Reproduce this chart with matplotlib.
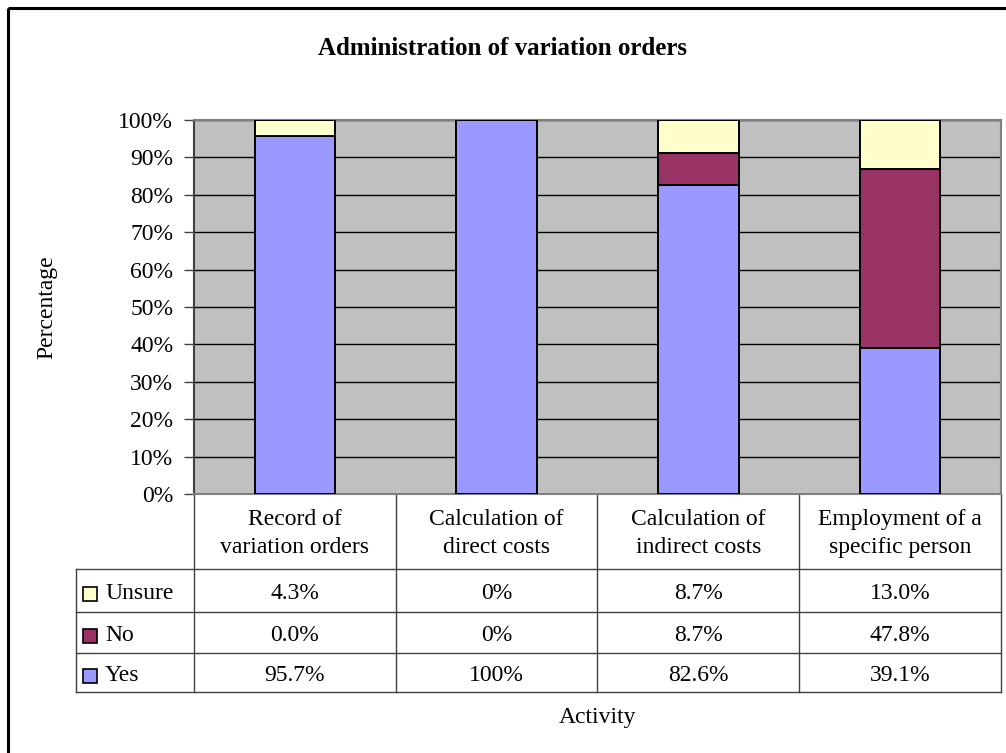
import numpy as np
import matplotlib
matplotlib.use("Agg")
import matplotlib.pyplot as plt
from matplotlib.patches import Rectangle

plt.rcParams.update({"font.family": ["Liberation Serif", "DejaVu Serif"], "font.size": 17})

# ---- data ----
activities = ["Record of\nvariation orders", "Calculation of\ndirect costs",
              "Calculation of\nindirect costs", "Employment of a\nspecific person"]
yes = [95.7, 100, 82.6, 39.1]
no = [0.0, 0, 8.7, 47.8]
unsure = [4.3, 0, 8.7, 13.0]
yes_txt = ["95.7%", "100%", "82.6%", "39.1%"]
no_txt = ["0.0%", "0%", "8.7%", "47.8%"]
unsure_txt = ["4.3%", "0%", "8.7%", "13.0%"]

YES_C = "#9999FF"; NO_C = "#993366"; UNS_C = "#FFFFCC"; BG = "#C0C0C0"
FS = 17

W, H = 1006, 753
fig = plt.figure(figsize=(W / 100, H / 100), dpi=100)

# overlay axes in pixel coordinates (y downwards) for frame + data table
ov = fig.add_axes([0, 0, 1, 1])
ov.set_xlim(0, W); ov.set_ylim(H, 0); ov.axis("off")
ov.add_patch(Rectangle((8, 8), W + 20, H + 20, fill=False, ec="black", lw=2.2))

# plot area in pixels
L, R, T, B = 194, 1001, 120, 494
ax = fig.add_axes([L / W, 1 - B / H, (R - L) / W, (B - T) / H])
ax.set_facecolor(BG)
x = np.arange(len(activities))
bw = 0.4
ax.bar(x, yes, bw, color=YES_C, edgecolor="black", lw=1.4, zorder=3)
ax.bar(x, no, bw, bottom=yes, color=NO_C, edgecolor="black", lw=1.4, zorder=3)
ax.bar(x, unsure, bw, bottom=np.array(yes) + np.array(no), color=UNS_C,
       edgecolor="black", lw=1.4, zorder=3)
ax.set_xlim(-0.5, len(activities) - 0.5)
ax.set_ylim(0, 100)
ax.set_yticks(np.arange(0, 101, 10))
ax.set_yticklabels([f"{v}%" for v in range(0, 101, 10)])
ax.tick_params(axis="y", length=7, width=1, color="#404040", pad=8, labelsize=FS)
ax.set_xticks([])
ax.yaxis.grid(True, color="black", lw=1)
ax.set_axisbelow(True)
for s in ["top", "right", "bottom"]:
    ax.spines[s].set_color("#808080"); ax.spines[s].set_linewidth(1.5)
ax.spines["left"].set_color("#404040"); ax.spines["left"].set_linewidth(1.5)

ov.text(47, (T + B) / 2, "Percentage", rotation=90, ha="center", va="center", fontsize=FS)

# ---- data table ----
colw = (R - L) / len(activities)
hdr_b = 569
rows_y = [569, 612, 653, 692]
TL = 76
lc = "#404040"
for i in range(len(activities) + 1):
    ov.plot([L + i * colw] * 2, [B, rows_y[-1]], color=lc, lw=1)
ov.plot([TL, TL], [hdr_b, rows_y[-1]], color=lc, lw=1)
for yy in rows_y:
    ov.plot([TL, R], [yy, yy], color=lc, lw=1)
for i, lab in enumerate(activities):
    ov.text(L + (i + 0.5) * colw, (B + hdr_b) / 2 + 2, lab, ha="center", va="center",
            fontsize=FS, linespacing=1.4)
series = [("Unsure", UNS_C, unsure_txt), ("No", NO_C, no_txt), ("Yes", YES_C, yes_txt)]
for r, (name, col, txt) in enumerate(series):
    yc = (rows_y[r] + rows_y[r + 1]) / 2 + 3
    ov.add_patch(Rectangle((83, yc - 7), 14, 14, fc=col, ec="black", lw=1.2))
    ov.text(105, yc, name, ha="left", va="center", fontsize=FS)
    for i, t in enumerate(txt):
        ov.text(L + (i + 0.5) * colw, yc, t, ha="center", va="center", fontsize=FS)

ov.text((L + R) / 2, 717, "Activity", ha="center", va="center", fontsize=FS)
ov.text(W / 2, 48, "Administration of variation orders", ha="center", va="center",
        fontsize=18, fontweight="bold")

fig.savefig("out.png", dpi=100)
